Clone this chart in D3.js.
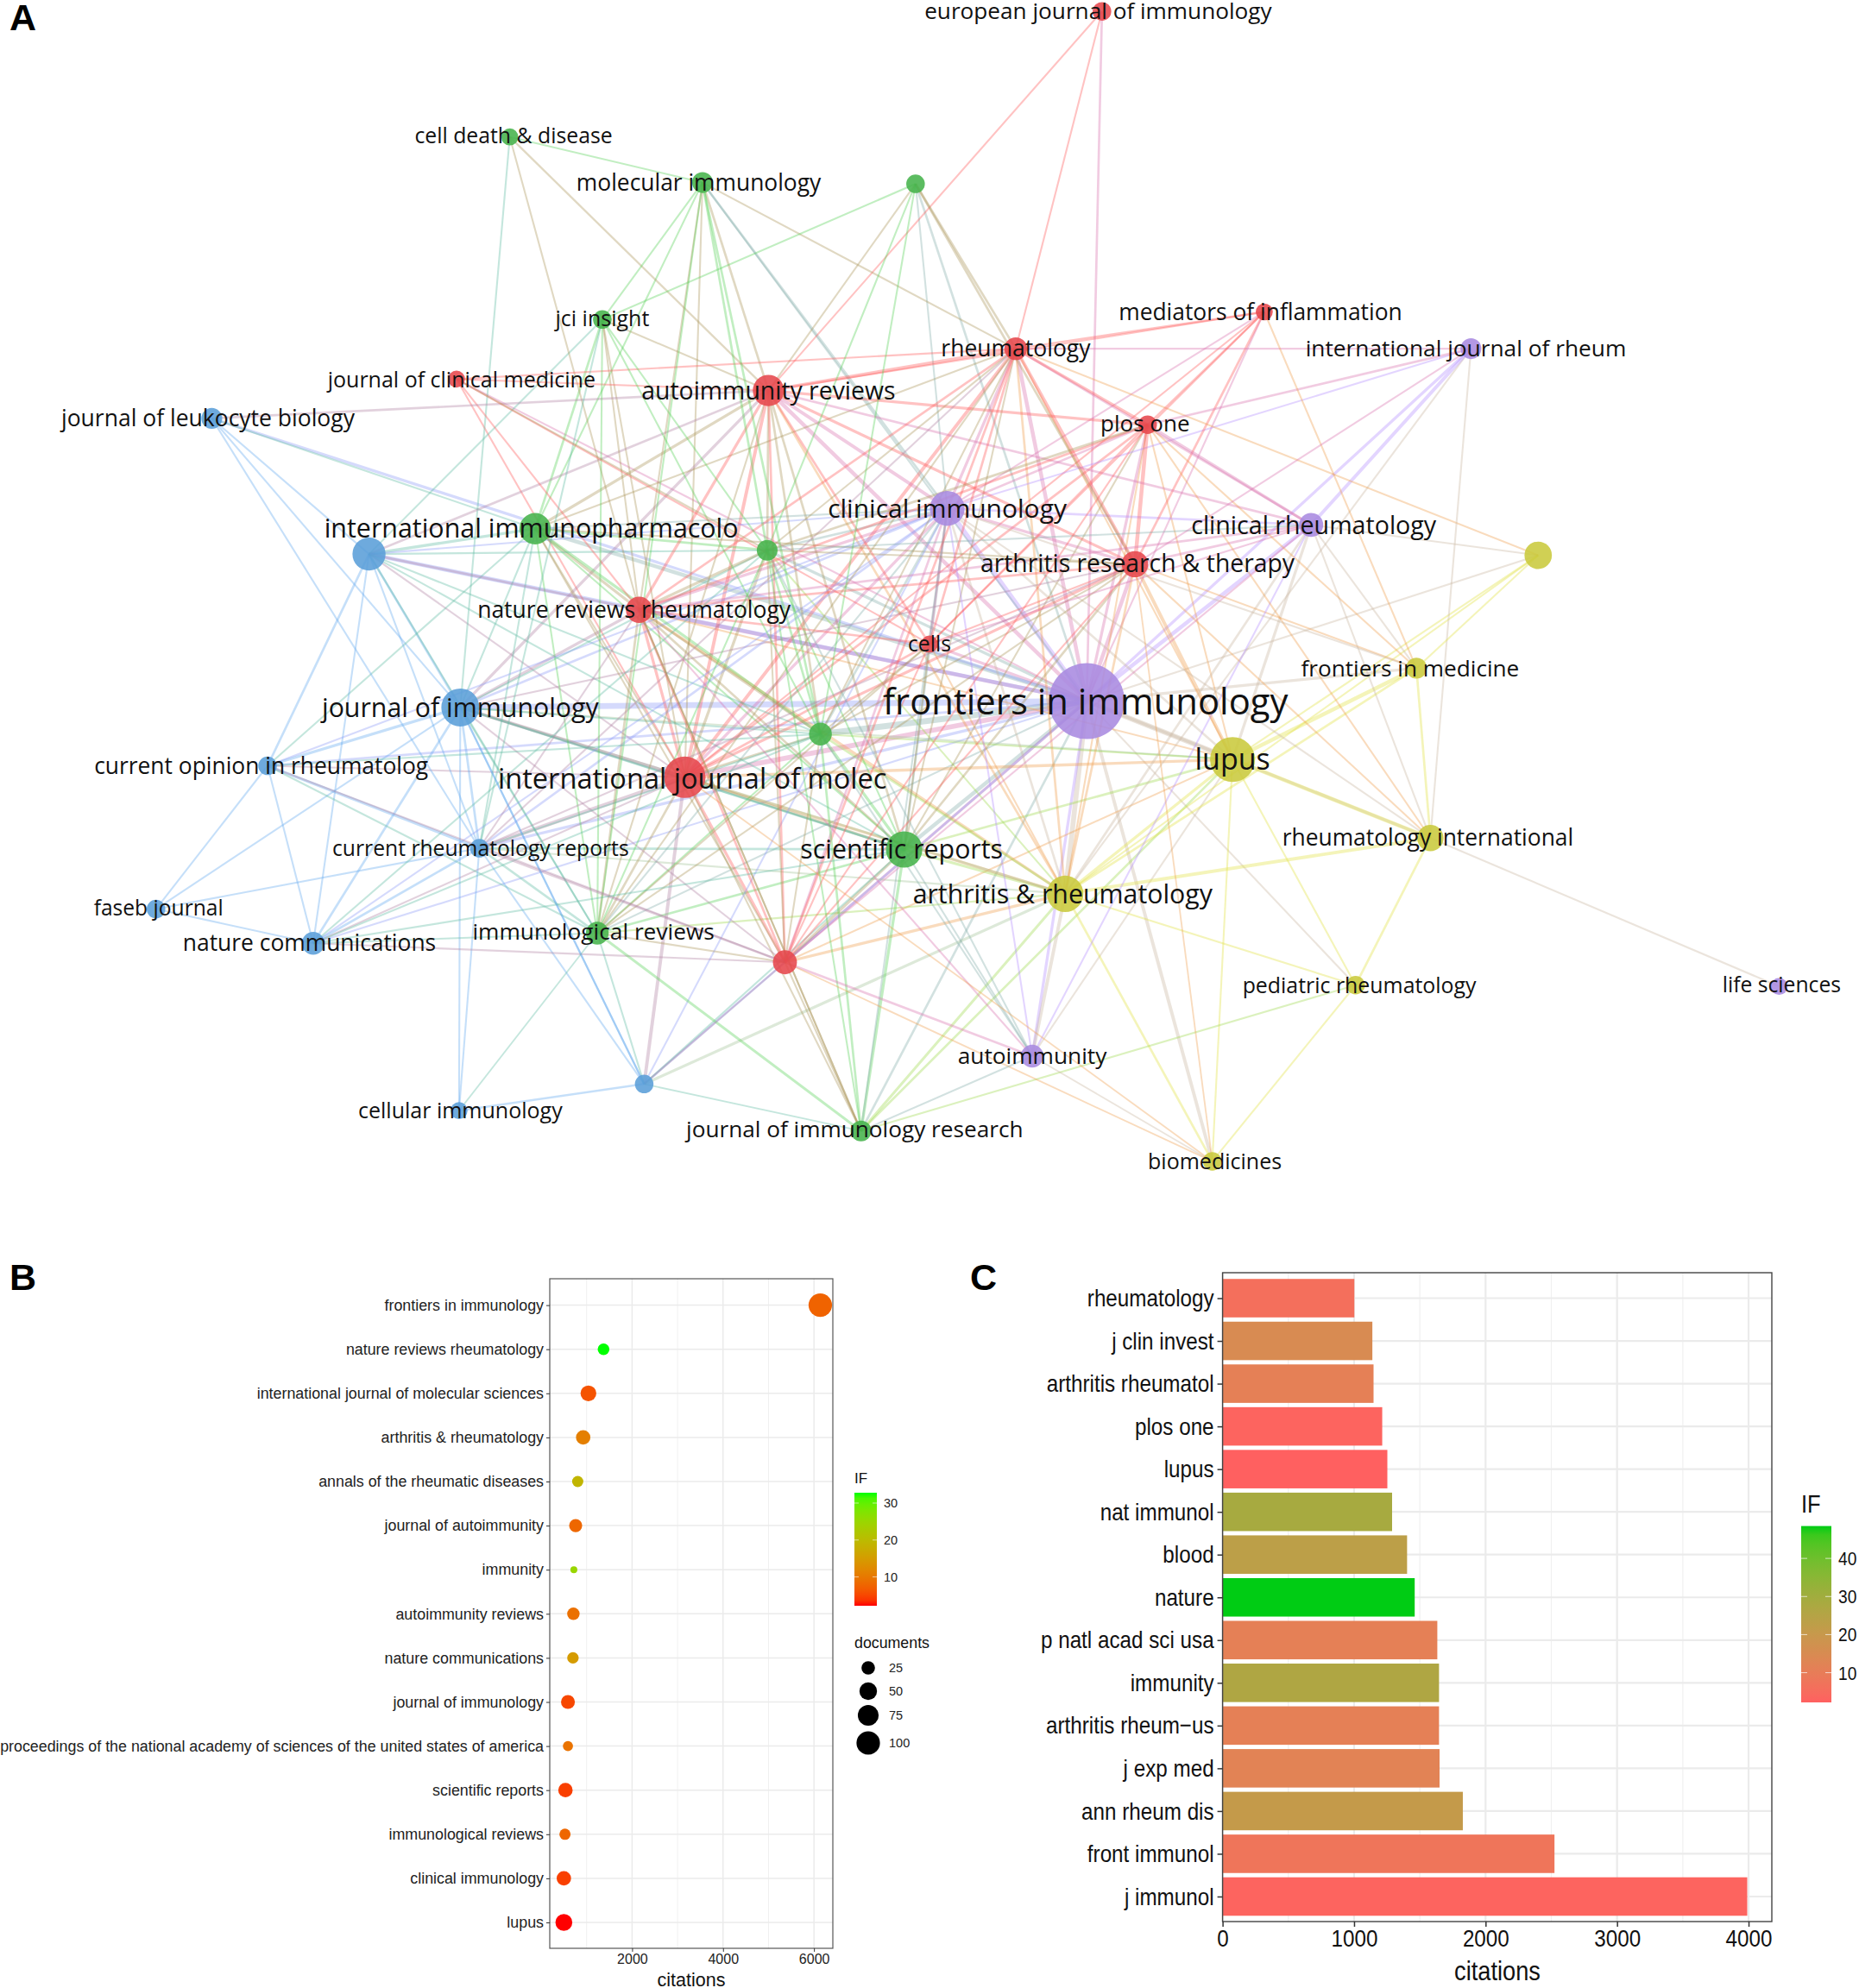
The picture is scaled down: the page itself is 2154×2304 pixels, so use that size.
<!DOCTYPE html>
<html><head><meta charset="utf-8">
<script src="https://cdn.jsdelivr.net/npm/d3@7"></script>
<style>
html,body{margin:0;padding:0;background:#fff}
svg{display:block}
text{font-family:"Liberation Sans",Arial,sans-serif}
.net text{font-family:"Open Sans",sans-serif;fill:#111}
</style></head><body>
<svg id="c" width="2154" height="2304"></svg>
<script>
// ---------- Panel A data: VOSviewer map (map units) ----------
const nodeIds =   ["fi","lu","ar","sr","ij","ji","ii","bu","ci","at","cr","nr","au","rh","po","me","eu","ir","cd","mo","gu","jc","cm","le","g2","ce","yu","fm","ri","g3","co","cu","fa","nc","ie","ru","pe","ls","am","cl","b2","jr","bi"];
const nodeNames = ["frontiers in immunology","lupus","arthritis & rheumatology","scientific reports","international journal of molec","journal of immunology","international immunopharmacolo","","clinical immunology","arthritis research & therapy","clinical rheumatology","nature reviews rheumatology","autoimmunity reviews","rheumatology","plos one","mediators of inflammation","european journal of immunology","international journal of rheum","cell death & disease","molecular immunology","","jci insight","journal of clinical medicine","journal of leukocyte biology","","cells","","frontiers in medicine","rheumatology international","","current opinion in rheumatolog","current rheumatology reports","faseb journal","nature communications","immunological reviews","","pediatric rheumatology","life sciences","autoimmunity","cellular immunology","","journal of immunology research","biomedicines"];
const nodeCluster=[4,3,3,1,0,2,1,2,4,0,4,0,0,0,0,0,0,4,1,1,1,1,0,2,1,0,3,3,3,1,2,2,2,2,1,0,3,4,4,2,2,1,3];
const nodeX = [857,972,840,713,540,363,422,291,747,895,1034,504,606,801,905,997,869,1160,402,554,722,475,360,167,605,733,1213,1117,1128,647,211,378,123,247,471,619,1069,1403,814,362,508,679,956];
const nodeY = [553,599,705,670,613,558,417,437,401,445,414,481,308,275,335,246,9,275,108,144,145,252,299,330,434,508,438,527,661,579,604,669,717,744,736,759,777,778,833,876,855,892,916];
const nodeWeight=[100,35,23,23,30,25,17,19,21,12,10,12,17,9,6,5,6,7.5,5,7.5,6,6,5,7.5,7.5,5,13,7.5,12,9,6,6,6,9,9,10,6,5,9,5,6,7.5,6];
const labelX = [856,972,838,711,546,363,419,0,747,897,1036,500,606,801,903,994,866,1156,405,551,0,475,364,164,0,733,0,1112,1126,0,206,379,125,244,468,0,1072,1405,814,363,0,674,958];
const labelY = [553,599,705,670,614,558,417,0,401,444,414,481,308,275,334,246,9,275,107,144,0,251,299,330,0,508,0,527,661,0,604,669,716,744,735,0,777,777,833,876,0,891,916];
const labelPt = [41.8,34,30.3,30.3,32.6,30.3,30.4,0,30,28.3,28.6,26.5,28.4,26.5,26,26.4,26.2,26.3,24.8,26.4,0,25,25,26.5,0,24.7,0,26.2,26.4,0,26.4,24.7,24.6,26.4,26.3,0,24.9,24.7,26.3,25,0,26.2,25];
// links: "a b strength"
const links = [
"fi ci 4","fi at 3","fi cr 3","fi nr 3","fi au 3","fi rh 3","fi po 2","fi lu 4","fi ar 4","fi sr 3","fi ij 4","fi ji 5","fi ii 3","fi bu 3","fi g3 5","fi g2 2","fi ce 2","fi le 2","fi me 1","fi ir 2","fi eu 1.5","fi ri 2","fi fm 2","fi yu 1","fi pe 1","fi am 2","fi nc 1","fi ie 1","fi ru 2","fi jr 1.5","fi bi 2.5","fi b2 1.5","fi cu 2","fi co 1.5","fi cm 1","fi gu 1.5","fi mo 1",
"lu ar 2","lu sr 1.5","lu ij 2","lu at 2.5","lu ci 1.5","lu ri 3","lu fm 3","lu cr 2","lu yu 1","lu pe 1","lu am 1","lu bi 1","lu ru 1","lu nr 1","lu po 1","lu jr 1.5","lu ji 1","lu rh 1","lu g3 1",
"ar sr 2","ar ij 2","ar ji 1.5","ar ci 1.5","ar at 1.5","ar cr 1.5","ar ri 2.5","ar fm 1.5","ar am 2.5","ar bi 1.5","ar ru 2","ar b2 2","ar nr 2","ar g3 1.5","ar g2 1","ar rh 1.5","ar au 1.5","ar pe 1","ar yu 1","ar jr 1.8","ar po 1","ar ie 1","ar cu 1","ar ir 1","ar ce 1",
"sr ij 2","sr ji 1.5","sr ru 2","sr g3 2","sr g2 1","sr ci 1.5","sr nr 1.5","sr ii 1","sr au 1.5","sr rh 1","sr at 1.5","sr jr 2","sr ie 1.5","sr cu 1.5","sr am 1","sr b2 1","sr po 1","sr ce 1","sr bu 1",
"ij ru 2","ij ji 2.5","ij cu 3","ij nr 2","ij au 2.5","ij rh 2.5","ij ci 2","ij at 2","ij po 1.5","ij ii 1","ij g2 2","ij g3 1.5","ij ce 1.5","ij ie 1.5","ij cm 1","ij co 1","ij bu 1","ij me 1","ij jr 1","ij nc 1","ij b2 2.5","ij jc 1","ij mo 1",
"ji nr 2","ji ii 1","ji bu 1.5","ji co 2","ji cu 1.5","ji nc 1.5","ji ie 1","ji au 2","ji g3 1","ji g2 1","ji ru 1","ji ci 1.5","ji at 1","ji b2 1","ji cl 1","ji le 1","ji cd 1","ji sr 1","ji fa 1",
"ii bu 2","ii au 2","ii rh 1","ii g2 1.5","ii nr 2","ii ci 1","ii g3 2","ii ie 1","ii ru 1","ii cu 1","ii co 1","ii le 1","ii jc 1.5","ii mo 1","ii at 1",
"bu g2 1","bu au 1.5","bu nr 1.5","bu co 1.5","bu cu 1","bu g3 1","bu ci 1","bu nc 1","bu le 1","bu ie 1","bu jc 1",
"ci au 2.5","ci rh 2","ci nr 2","ci at 2","ci cr 1.5","ci po 1.5","ci g2 1.5","ci g3 1.5","ci ce 1.5","ci ru 1.5","ci ie 1","ci mo 1.5","ci gu 1","ci cu 1.5","ci am 1","ci b2 1","ci jr 1","ci ir 1","ci co 1","ci nc 1","ci me 1","ci ri 1",
"at au 2","at rh 2.5","at po 3","at nr 1.5","at cr 1.5","at me 1.5","at g2 1","at ru 1","at ce 1","at g3 1","at gu 1.5","at ie 1","at ri 1","at fm 1",
"cr au 1.5","cr po 2","cr rh 1.5","cr ir 2.5","cr yu 1","cr fm 1","cr ri 1","cr am 1","cr nr 1.5","cr ce 1","cr ru 1","cr g2 1",
"nr au 2","nr rh 1.5","nr po 1.5","nr g2 2","nr g3 1.5","nr ru 1.5","nr ce 1.5","nr ie 1.5","nr cm 1","nr jc 1","nr cd 1","nr mo 1","nr cu 1","nr jr 1",
"au rh 2.5","au po 2","au me 1","au g2 1.5","au g3 1.5","au ce 1.5","au ru 1.5","au ie 1","au cm 1","au cd 1.2","au mo 1.5","au gu 1","au eu 1","au le 1.5","au jc 1",
"rh po 2","rh me 1.2","rh ir 1","rh eu 1","rh g2 1","rh g3 1","rh ce 1.5","rh ru 1.5","rh cm 1","rh mo 1","rh gu 1.5","rh ie 1","rh cu 1","rh yu 1",
"po me 1.2","po ir 1.5","po g2 1.5","po ru 1","po ce 1","po ri 1","po fm 1",
"me fm 1","me ce 1",
"ir ri 1","ir at 1",
"cd mo 1","mo jc 1","mo g2 1.5","mo g3 1.5","mo ie 1","gu jc 1","gu g2 1","gu g3 1","jc g2 1","jc g3 1","jc ie 1","jc cu 1",
"le cu 1","cm ce 1","cm g2 1","g2 g3 1.5","g2 ie 1","g2 jr 1","g2 ru 1","g2 am 1","g3 ie 1","g3 ru 1","g3 cu 1","g3 jr 1.5","g3 nc 1","g3 co 1","g3 am 1",
"ce ru 1","ce ie 1","ce g3 1","yu fm 1","fm ri 1.5","fm ci 1","ri pe 1.5","ri ls 1","pe bi 1","pe jr 1",
"co cu 2","co fa 1","co nc 1","co ie 1","co ru 1","cu fa 1","cu nc 1.5","cu ie 1.5","cu ru 1.5","cu cl 1","cu b2 1","cu at 1","fa nc 1","nc ie 1","nc ru 1","nc sr 1","nc g2 1",
"ie ru 1","ie jr 1.8","ie b2 1","ie cl 0.8","ru am 1.5","ru jr 1","ru b2 1","ru bi 0.8","am bi 0.8","am jr 1","am nr 1","cl b2 1.3","b2 ji 1.2","b2 jr 0.8","jr nr 1","bi at 0.8","bi ij 0.8"
];
const clusterColors = ["#e6474c","#46b34b","#5a9ed8","#c9c93c","#a98ae0"];
const linkColors = ["#ff5a5a","#58d058","#63a8ee","#e0e040","#b48cff"];
const letters = ["A","B","C"];

// ---------- Panel B data ----------
const journalsB = ["frontiers in immunology","nature reviews rheumatology","international journal of molecular sciences","arthritis & rheumatology","annals of the rheumatic diseases","journal of autoimmunity","immunity","autoimmunity reviews","nature communications","journal of immunology","proceedings of the national academy of sciences of the united states of america","scientific reports","immunological reviews","clinical immunology","lupus"];
const citationsB = [6120,1353,1020,905,785,740,700,690,680,570,570,515,505,480,480];
const documentsB = [100,17,38,30,15,23,3,20,16,27,11,30,15,30,45];
const ifB = [7.5,32.8,6,10.9,19,8,25,9,14.9,5,9.4,4.4,8,4.5,2.2];
const legendDocs = [25,50,75,100];
const ticksIFB = [10,20,30];
const ticksXB = [2000,4000,6000];
const minorXB = [1000,3000,5000];

// ---------- Panel C data ----------
const journalsC = ["rheumatology","j clin invest","arthritis rheumatol","plos one","lupus","nat immunol","blood","nature","p natl acad sci usa","immunity","arthritis rheum\u2212us","j exp med","ann rheum dis","front immunol","j immunol"];
const citationsC = [1002,1139,1148,1214,1253,1289,1403,1461,1633,1646,1646,1650,1827,2524,3990];
const ifC = [6,15,11,3,2.2,28.5,23,48.5,11,26.5,11,12,21,7.5,3];
const ticksXC = [0,1000,2000,3000,4000];
const minorXC = [500,1500,2500,3500];
const ticksIFC = [10,20,30,40];

const svg = d3.select("#c");
svg.append("rect").attr("width",2154).attr("height",2304).attr("fill","#fff");

// ---------- Panel A ----------
const mx = d3.scaleLinear().domain([0,1466]).range([0,2154]);
const my = d3.scaleLinear().domain([0,1568]).range([0,2304]);
const rad = d3.scaleSqrt().domain([0,100]).range([0,44]);
const net = svg.append("g").attr("class","net");
const idx = new Map(nodeIds.map((d,i)=>[d,i]));
const parsed = links.map(s=>{const p=s.split(" ");return {a:idx.get(p[0]),b:idx.get(p[1]),w:+p[2]};});
net.append("g").selectAll("line").data(parsed).join("line")
 .attr("x1",d=>mx(nodeX[d.a])).attr("y1",d=>my(nodeY[d.a]))
 .attr("x2",d=>mx(nodeX[d.b])).attr("y2",d=>my(nodeY[d.b]))
 .attr("stroke",d=>d3.interpolateRgb(linkColors[nodeCluster[d.a]],linkColors[nodeCluster[d.b]])(0.5))
 .attr("stroke-opacity",0.37)
 .attr("stroke-width",d=>0.9+d.w*1.2);
net.append("g").selectAll("circle").data(nodeIds).join("circle")
 .attr("cx",(d,i)=>mx(nodeX[i])).attr("cy",(d,i)=>my(nodeY[i])).attr("r",(d,i)=>rad(nodeWeight[i]))
 .attr("fill",(d,i)=>clusterColors[nodeCluster[i]]).attr("fill-opacity",0.88);
net.append("g").selectAll("text").data(nodeNames).join("text")
 .filter(d=>d!=="")
 .attr("x",d=>mx(labelX[nodeNames.indexOf(d)])).attr("y",d=>my(labelY[nodeNames.indexOf(d)])-0.8)
 .attr("text-anchor","middle").attr("dominant-baseline","central")
 .attr("font-size",d=>labelPt[nodeNames.indexOf(d)]).text(d=>d);

// panel letters
const letterPos = {A:[11,35],B:[11,1495],C:[1124,1495]};
svg.selectAll("text.letter").data(letters).join("text").attr("class","letter")
 .attr("x",d=>letterPos[d][0]).attr("y",d=>letterPos[d][1])
 .attr("font-size",43).attr("font-weight","bold").attr("fill","#000").text(d=>d);

// ---------- Panel B ----------
const B = {l:637,r:965,t:1482,b:2258};
const xB = d3.scaleLinear().domain([189,6415]).range([B.l,B.r]);
const yB = d3.scalePoint().domain(journalsB).range([1512.6,2228]);
const gB = svg.append("g").attr("class","pb");
gB.append("g").selectAll("line").data(minorXB).join("line").attr("x1",d=>xB(d)).attr("x2",d=>xB(d)).attr("y1",B.t).attr("y2",B.b).attr("stroke","#f0f0f0").attr("stroke-width",1);
gB.append("g").selectAll("line").data(ticksXB).join("line").attr("x1",d=>xB(d)).attr("x2",d=>xB(d)).attr("y1",B.t).attr("y2",B.b).attr("stroke","#ebebeb").attr("stroke-width",1.5);
gB.append("g").selectAll("line").data(journalsB).join("line").attr("y1",d=>yB(d)).attr("y2",d=>yB(d)).attr("x1",B.l).attr("x2",B.r).attr("stroke","#ebebeb").attr("stroke-width",1.5);
const ifScaleB = d3.scaleLinear().domain([2.2,32.8]).range(["#ff0000","#00ff00"]).interpolate(d3.interpolateLab);
const sizeB = d3.scaleSqrt().domain([0,100]).range([2,13.6]);
gB.append("g").selectAll("circle").data(journalsB).join("circle")
 .attr("cx",(d,i)=>xB(citationsB[i])+1).attr("cy",d=>yB(d)).attr("r",(d,i)=>sizeB(documentsB[i])).attr("fill",(d,i)=>ifScaleB(ifB[i]));
gB.append("rect").attr("x",B.l).attr("y",B.t).attr("width",B.r-B.l).attr("height",B.b-B.t).attr("fill","none").attr("stroke","#555").attr("stroke-width",1.2);
const axYB = gB.append("g").attr("transform",`translate(${B.l},0)`).call(d3.axisLeft(yB).tickSize(4).tickPadding(3));
const axXB = gB.append("g").attr("transform",`translate(0,${B.b})`).call(d3.axisBottom(xB).tickValues(ticksXB).tickFormat(d3.format("d")).tickSize(4).tickPadding(3));
[axYB,axXB].forEach(a=>{a.select(".domain").remove();a.selectAll("line").attr("stroke","#333");a.selectAll("text").attr("font-size",16).attr("fill","#222");});
axYB.selectAll("text").attr("font-size",17.85);
gB.append("text").attr("x",801).attr("y",2302).attr("text-anchor","middle").attr("font-size",21.5).attr("fill","#111").text("citations");
const defs = svg.append("defs");
function grad(id,scale,dom){const g=defs.append("linearGradient").attr("id",id).attr("x1",0).attr("x2",0).attr("y1",1).attr("y2",0);
 d3.range(0,1.0001,0.05).forEach(t=>g.append("stop").attr("offset",t).attr("stop-color",scale(dom[0]+(dom[1]-dom[0])*t)));}
grad("gb",ifScaleB,[2.2,32.8]);
const lyB = d3.scaleLinear().domain([2.2,32.8]).range([1861,1730]);
gB.append("text").attr("x",990).attr("y",1719).attr("font-size",17).attr("fill","#111").text("IF");
gB.append("rect").attr("x",990).attr("y",1730).attr("width",26).attr("height",131).attr("fill","url(#gb)");
ticksIFB.forEach(t=>{
 gB.append("line").attr("x1",990).attr("x2",995).attr("y1",lyB(t)).attr("y2",lyB(t)).attr("stroke","#fff").attr("stroke-opacity",.6);
 gB.append("line").attr("x1",1011).attr("x2",1016).attr("y1",lyB(t)).attr("y2",lyB(t)).attr("stroke","#fff").attr("stroke-opacity",.6);
 gB.append("text").attr("x",1024).attr("y",lyB(t)+5).attr("font-size",14.5).attr("fill","#222").text(t);
});
gB.append("text").attr("x",990).attr("y",1910).attr("font-size",17.8).attr("fill","#111").text("documents");
const lgYs = [1933,1960,1988,2020];
legendDocs.forEach((d,i)=>{
 gB.append("circle").attr("cx",1006).attr("cy",lgYs[i]).attr("r",sizeB(d)).attr("fill","#000");
 gB.append("text").attr("x",1030).attr("y",lgYs[i]+5).attr("font-size",14.5).attr("fill","#222").text(d);
});

// ---------- Panel C ----------
const C = {l:1416.6,r:2053,t:1475,b:2227};
const xC = d3.scaleLinear().domain([0,4177]).range([C.l,C.r]);
const yC = d3.scaleBand().domain(journalsC).range([1479.75,2222.75]).paddingInner(0.1).paddingOuter(0.05);
const gC = svg.append("g").attr("class","pc");
gC.append("g").selectAll("line").data(minorXC).join("line").attr("x1",d=>xC(d)).attr("x2",d=>xC(d)).attr("y1",C.t).attr("y2",C.b).attr("stroke","#f0f0f0").attr("stroke-width",1.2);
gC.append("g").selectAll("line").data(ticksXC).join("line").attr("x1",d=>xC(d)).attr("x2",d=>xC(d)).attr("y1",C.t).attr("y2",C.b).attr("stroke","#ebebeb").attr("stroke-width",2.2);
gC.append("g").selectAll("line").data(journalsC).join("line").attr("y1",d=>yC(d)+yC.bandwidth()/2).attr("y2",d=>yC(d)+yC.bandwidth()/2).attr("x1",C.l).attr("x2",C.r).attr("stroke","#ebebeb").attr("stroke-width",2.2);
const ifScaleC = d3.scaleLinear().domain([2.2,48.5]).range(["#ff6060","#00cc14"]).interpolate(d3.interpolateLab);
gC.append("g").selectAll("rect").data(journalsC).join("rect")
 .attr("x",C.l).attr("y",d=>yC(d)).attr("height",yC.bandwidth()).attr("width",(d,i)=>xC(citationsC[i])-C.l).attr("fill",(d,i)=>ifScaleC(ifC[i]));
gC.append("rect").attr("x",C.l).attr("y",C.t).attr("width",C.r-C.l).attr("height",C.b-C.t).attr("fill","none").attr("stroke","#444").attr("stroke-width",1.4);
const axYC = gC.append("g").attr("transform",`translate(${C.l},0.5)`).call(d3.axisLeft(yC).tickSize(6).tickPadding(4));
const axXC = gC.append("g").attr("transform",`translate(0,${C.b})`).call(d3.axisBottom(xC).tickValues(ticksXC).tickFormat(d3.format("d")).tickSize(6).tickPadding(3));
[axYC,axXC].forEach(a=>{a.select(".domain").remove();a.selectAll("line").attr("stroke","#333").attr("stroke-width",1.5);a.selectAll("text").attr("font-size",28.5).attr("fill","#111");});
gC.append("text").attr("x",1735).attr("y",2295).attr("text-anchor","middle").attr("font-size",32).attr("fill","#111").text("citations");
grad("gc",ifScaleC,[2.2,48.5]);
const lyC = d3.scaleLinear().domain([2.2,48.5]).range([1973,1768.6]);
gC.append("text").attr("x",2087).attr("y",1753).attr("font-size",30).attr("fill","#111").text("IF");
gC.append("rect").attr("x",2087).attr("y",1768.6).attr("width",35).attr("height",204.4).attr("fill","url(#gc)");
ticksIFC.forEach(t=>{
 gC.append("line").attr("x1",2087).attr("x2",2094).attr("y1",lyC(t)).attr("y2",lyC(t)).attr("stroke","#fff").attr("stroke-opacity",.7);
 gC.append("line").attr("x1",2115).attr("x2",2122).attr("y1",lyC(t)).attr("y2",lyC(t)).attr("stroke","#fff").attr("stroke-opacity",.7);
 gC.append("text").attr("x",2130).attr("y",lyC(t)+8).attr("font-size",22.5).attr("fill","#111").text(t);
});
// Panel C text is condensed in the original: compress glyphs horizontally
gC.selectAll("text").each(function(){const n=this;const w=n.getComputedTextLength();n.setAttribute("textLength",(w*0.85).toFixed(2));n.setAttribute("lengthAdjust","spacingAndGlyphs");});
</script>
</body></html>
